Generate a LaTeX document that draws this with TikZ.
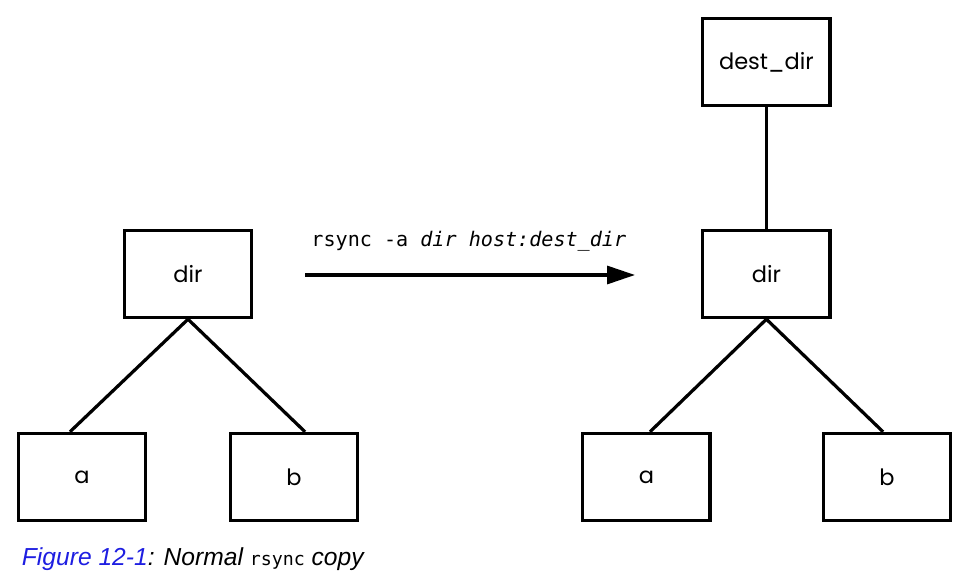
\documentclass[tikz,border=0pt]{standalone}
\usepackage{fontspec}
\setmainfont{Poppins}
\setmonofont{DejaVu Sans Mono}
\newfontfamily\capfont{Liberation Sans}
\usetikzlibrary{arrows.meta}
\definecolor{figblue}{RGB}{30,30,225}
\begin{document}
\begin{tikzpicture}[
	box/.style={draw, line width=2.3pt, minimum width=3.18cm, minimum height=2.18cm, font=\fontsize{16}{19}\selectfont},
	link/.style={line width=2.3pt}]
\useasboundingbox (0, 0) rectangle (24.2, 14.575);

\node[box] (ldir) at (4.7, 7.725) {dir};
\node[box] (la) at (2.05, 2.65) {a};
\node[box] (lb) at (7.35, 2.65) {b};

\node[box] (dest) at (19.16, 13.025) {dest\_dir};
\node[box] (rdir) at (19.16, 7.725) {dir};
\node[box] (ra) at (16.16, 2.65) {a};
\node[box] (rb) at (22.175, 2.65) {b};

\draw[link] (ldir.south) -- ([xshift=-0.3cm]la.north);
\draw[link] (ldir.south) -- ([xshift=0.275cm]lb.north);
\draw[link] (dest.south) -- (rdir.north);
\draw[link] (rdir.south) -- ([xshift=0.09cm]ra.north);
\draw[link] (rdir.south) -- ([xshift=-0.1cm]rb.north);

\coordinate (from) at (7.625, 7.7);
\coordinate (to) at (15.875, 7.7);
\draw[link, -{Triangle[length=0.7cm, width=0.45cm]}] (from) -- (to);
\node[anchor=base, font=\ttfamily\fontsize{14.3}{17}\selectfont] (cmd) at (11.72, 8.4) {rsync -a \textit{dir host:dest\_dir}};

\node[anchor=base west, font=\capfont\itshape\fontsize{17.5}{20}\selectfont] (caption) at (0.425, 0.45) {\textcolor{figblue}{Figure 12-1}: Normal {\upshape\ttfamily\fontsize{13}{16}\selectfont rsync} copy};
\end{tikzpicture}
\end{document}
